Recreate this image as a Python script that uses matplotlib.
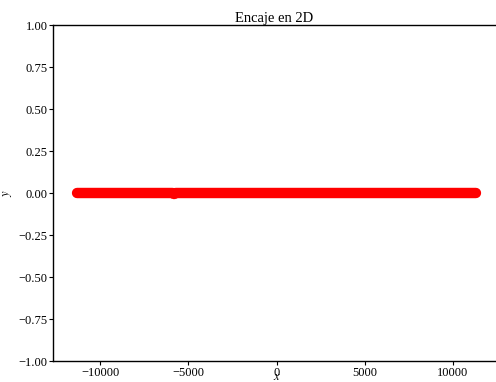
import matplotlib
matplotlib.use("Agg")
import matplotlib.pyplot as plt

# Data (embedding coordinates, all on y ~ 0)
x_vals = [-11300, -5900, -5800, -5700, 11300]
y_vals = [0.0, 0.0, -0.006, 0.0, 0.0]
title = "Encaje en 2D"
x_ticks = [-10000, -5000, 0, 5000, 10000]
y_ticks = [-1.00, -0.75, -0.50, -0.25, 0.00, 0.25, 0.50, 0.75, 1.00]

plt.rcParams['font.family'] = ['Liberation Serif', 'DejaVu Serif']
plt.rcParams['mathtext.fontset'] = 'stix'

fig = plt.figure(figsize=(4.96, 3.82), dpi=100)
ax = fig.add_axes([53/496, 21/382, 1 - 53/496, (361-25)/382])

ax.plot(x_vals, y_vals, color='red', linewidth=7.5, solid_capstyle='round',
        solid_joinstyle='round')

ax.set_xlim(-12663, 12436)
ax.set_ylim(-1, 1)
ax.set_xticks(x_ticks)
ax.set_yticks(y_ticks)
ax.set_yticklabels([f"{v:.2f}".replace('-', '\u2212') for v in y_ticks])
ax.set_xticklabels([str(v).replace('-', '\u2212') for v in x_ticks])
ax.tick_params(labelsize=9, length=3, width=0.8, pad=1.0, direction='out')
ax.spines['right'].set_visible(False)
for s in ['left', 'bottom', 'top']:
    ax.spines[s].set_linewidth(1.0)
ax.set_title(title, fontsize=10.5, pad=2)
ax.set_xlabel('$x$', fontsize=9)
ax.set_ylabel('$y$', fontsize=9)
ax.xaxis.set_label_coords(0.5048, -0.03)
ax.yaxis.set_label_coords(-0.088, 0.5)

fig.savefig('out.png', dpi=100)
